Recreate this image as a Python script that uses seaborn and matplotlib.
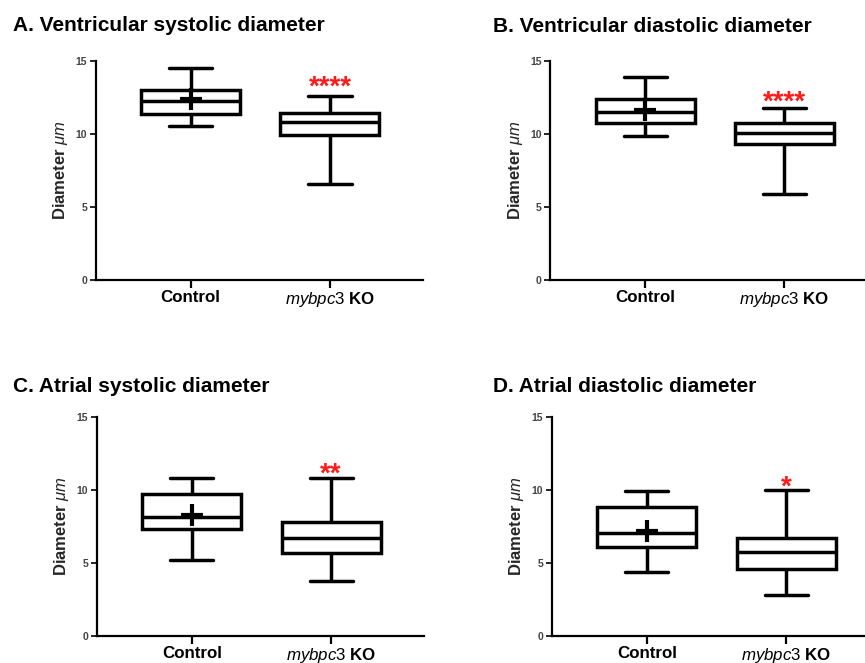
import numpy as np
import pandas as pd
import matplotlib
matplotlib.use("Agg")
import matplotlib.pyplot as plt
import seaborn as sns

# ---- data ----
groups = ["Control", "mybpc3 KO"]
titles = ["A. Ventricular systolic diameter", "B. Ventricular diastolic diameter",
          "C. Atrial systolic diameter", "D. Atrial diastolic diameter"]
ctrl_min = [10.55, 9.88, 5.2, 4.4]
ctrl_q1 = [11.4, 10.73, 7.3, 6.07]
ctrl_med = [12.25, 11.53, 8.16, 7.07]
ctrl_q3 = [13.0, 12.38, 9.69, 8.85]
ctrl_max = [14.5, 13.88, 10.8, 9.94]
ctrl_mean = [12.4, 11.64, 8.28, 7.2]
ko_min = [6.58, 5.9, 3.74, 2.78]
ko_q1 = [9.93, 9.29, 5.7, 4.56]
ko_med = [10.84, 10.09, 6.68, 5.72]
ko_q3 = [11.42, 10.77, 7.78, 6.68]
ko_max = [12.62, 11.8, 10.8, 9.99]
stars = ["****", "****", "**", "*"]
star_y = [13.6, 12.6, 11.5, 10.6]
yticks = [0, 5, 10, 15]

sns.set_theme(style="ticks")
plt.rcParams["font.family"] = ["Liberation Sans", "DejaVu Sans"]
plt.rcParams["mathtext.fontset"] = "custom"
plt.rcParams["mathtext.rm"] = "Liberation Sans"
plt.rcParams["mathtext.it"] = "Liberation Sans:italic"
plt.rcParams["mathtext.bf"] = "Liberation Sans:bold"

W, H = 865, 663
fig = plt.figure(figsize=(W / 100, H / 100), dpi=100)
fig.patch.set_facecolor("white")

# axes boxes in pixels: (left, top, right, bottom)
boxes = [(95.5, 61, 423.0, 280), (550, 61, 877.5, 280),
         (96.7, 416.7, 424.2, 636), (551.7, 416.7, 879.2, 636)]
title_pos = [(13, 31), (493, 32), (13, 392), (493, 392)]

for i in range(4):
    l, t, r, b = boxes[i]
    ax = fig.add_axes([l / W, 1 - b / H, (r - l) / W, (b - t) / H])
    ctrl_vals = [ctrl_min[i], ctrl_q1[i], ctrl_med[i], ctrl_q3[i], ctrl_max[i]]
    ko_vals = [ko_min[i], ko_q1[i], ko_med[i], ko_q3[i], ko_max[i]]
    df = pd.DataFrame({
        "group": [groups[0]] * 5 + [groups[1]] * 5,
        "value": ctrl_vals + ko_vals,
    })
    sns.boxplot(data=df, x="group", y="value", order=groups, whis=(0, 100),
                width=0.71, color="white", linecolor="black", linewidth=2.5,
                showfliers=False, capwidths=0.31, ax=ax)
    sns.scatterplot(x=[0], y=[ctrl_mean[i]], marker="+", s=240, color="black",
                    linewidth=3.0, ax=ax, zorder=5, legend=False)
    ax.annotate(stars[i], xy=(1, star_y[i]), xytext=(0, -9.6),
                textcoords="offset points", ha="center", va="baseline",
                color="#ff1a1a", fontsize=20, fontweight="bold")
    ax.set_xlim(-0.683, 1.668)
    ax.set_ylim(0, 15)
    ax.set_yticks(yticks)
    ax.set_yticklabels([str(v) for v in yticks], fontsize=7.5,
                       fontweight="bold", color="#444444")
    ax.set_xticks([0, 1])
    ax.set_xticklabels(["Control", r"$\mathit{mybpc3}$ KO"], fontsize=12.2,
                       fontweight="bold", color="black")
    ax.set_xlabel("")
    ax.set_ylabel(r"Diameter $\it{\mu m}$", fontsize=12, fontweight="bold",
                  labelpad=4)
    for s in ["top", "right"]:
        ax.spines[s].set_visible(False)
    for s in ["left", "bottom"]:
        ax.spines[s].set_linewidth(1.6)
        ax.spines[s].set_color("black")
    ax.tick_params(axis="y", length=4, width=1.2, pad=2, colors="black",
                   labelcolor="#444444")
    ax.tick_params(axis="x", length=6, width=1.6, pad=1, colors="black",
                   labelcolor="black")
    ax.set_facecolor("white")
    tx, ty = title_pos[i]
    fig.text(tx / W, 1 - ty / H, titles[i], fontsize=15, fontweight="bold",
             va="baseline", ha="left", color="black")

fig.savefig("out.png", dpi=100, facecolor="white")
